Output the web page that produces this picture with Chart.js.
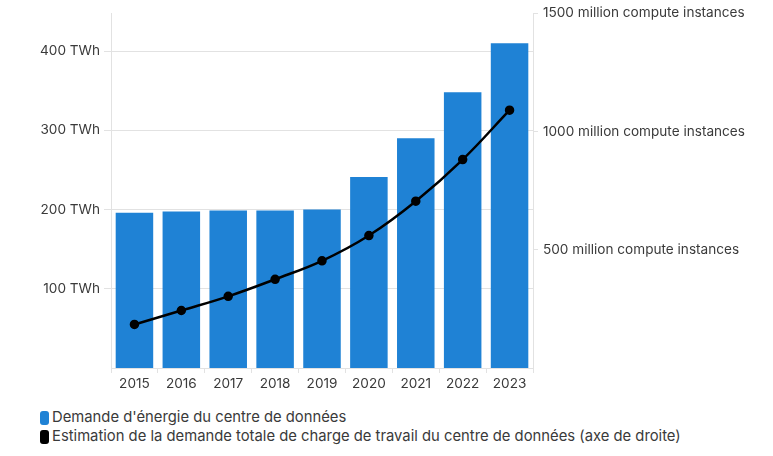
<!DOCTYPE html>
<html>
<head>
<meta charset="utf-8">
<script src="https://cdn.jsdelivr.net/npm/chart.js@4"></script>
<style>
  body { margin: 0; background: #fff; font-family: Inter, sans-serif; }
  #wrap { width: 773px; height: 400px; position: relative; }
  #legend { position: absolute; left: 40px; top: 408px; font-size: 14.8px; color: #3a3a3a; line-height: 19px; }
  .item { display: flex; align-items: center; }
  .swatch { width: 9px; height: 14px; border-radius: 3px; margin-right: 3px; }
</style>
</head>
<body>
<div id="wrap"><canvas id="chart" width="773" height="400"></canvas></div>
<div id="legend"></div>
<script>
// data
let years = ['2015', '2016', '2017', '2018', '2019', '2020', '2021', '2022', '2023'];
let energyTWh = [196, 197.5, 199, 199, 200, 241, 290, 348, 410];
let workloadMillions = [184, 243, 303, 375, 453, 560, 705, 881, 1090];
let leftTicks = [100, 200, 300, 400];
let rightTicks = [500, 1000, 1500];
let seriesNames = ["Demande d'énergie du centre de données", "Estimation de la demande totale de charge de travail du centre de données (axe de droite)"];

let blue = '#1f82d5';
let gridColor = '#e2e2e2';
let textColor = '#3a3a3a';
let tickFont = { family: 'Inter', size: 13.6 };

let ctx = document.getElementById('chart').getContext('2d');
let chart = new Chart(ctx, {
    type: 'bar',
    data: {
        labels: years,
        datasets: [{
            type: 'line',
            label: seriesNames[1],
            data: workloadMillions,
            yAxisID: 'y1',
            borderColor: '#000',
            backgroundColor: '#000',
            borderWidth: 2.5,
            pointRadius: 3.5,
            tension: 0.4,
            order: 0
        }, {
            label: seriesNames[0],
            data: energyTWh,
            yAxisID: 'y',
            backgroundColor: blue,
            categoryPercentage: 1,
            barPercentage: 0.8,
            order: 1
        }]
    },
    options: {
        responsive: false,
        animation: false,
        layout: { padding: { top: 12, left: 0, right: 0, bottom: 0 } },
        plugins: { legend: { display: false }, tooltip: { enabled: false } },
        scales: {
            x: {
                grid: { drawOnChartArea: false, color: gridColor, tickLength: 5 },
                border: { color: gridColor },
                ticks: { color: textColor, font: tickFont, padding: 3 },
                afterFit: s => { s.height = 32; }
            },
            y: {
                position: 'left',
                min: 0,
                max: 448,
                afterBuildTicks: s => { s.ticks = leftTicks.map(v => ({ value: v })); },
                grid: { color: gridColor, tickLength: 7 },
                border: { color: gridColor },
                ticks: { color: textColor, font: tickFont, padding: 4,
                         callback: v => v + ' TWh' },
                afterFit: s => { s.width = 111; }
            },
            y1: {
                position: 'right',
                min: 0,
                max: 1500,
                afterBuildTicks: s => { s.ticks = rightTicks.map(v => ({ value: v })); },
                grid: { drawOnChartArea: false, color: gridColor, tickLength: 5 },
                border: { color: gridColor },
                ticks: { color: textColor, font: tickFont, padding: 5,
                         callback: v => v + ' million compute instances' },
                afterFit: s => { s.width = 240; }
            }
        }
    }
});

// html legend, stacked like the reference
let legend = document.getElementById('legend');
[[blue, seriesNames[0]], ['#000', seriesNames[1]]].forEach(([c, t]) => {
    let row = document.createElement('div');
    row.className = 'item';
    row.innerHTML = '<span class="swatch" style="background:' + c + '"></span><span>' + t + '</span>';
    legend.appendChild(row);
});
</script>
</body>
</html>
